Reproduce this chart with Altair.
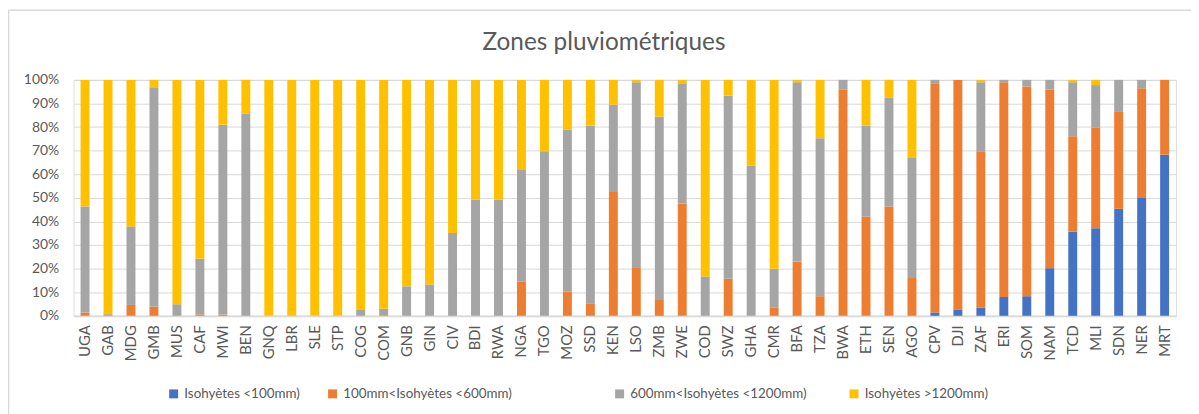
import altair as alt
import pandas as pd

countries = ["UGA", "GAB", "MDG", "GMB", "MUS", "CAF", "MWI", "BEN", "GNQ", "LBR", "SLE", "STP",
             "COG", "COM", "GNB", "GIN", "CIV", "BDI", "RWA", "NGA", "TGO", "MOZ", "SSD", "KEN",
             "LSO", "ZMB", "ZWE", "COD", "SWZ", "GHA", "CMR", "BFA", "TZA", "BWA", "ETH", "SEN",
             "AGO", "CPV", "DJI", "ZAF", "ERI", "SOM", "NAM", "TCD", "MLI", "SDN", "NER", "MRT"]

below_100 = [0, 0, 0, 0, 0, 0, 0, 0, 0, 0, 0, 0,
             0, 0, 0, 0, 0, 0, 0, 0, 0, 0, 0, 0,
             0, 0, 0, 0, 0, 0, 0, 0, 0, 0, 0, 0,
             0, 1.4, 2.7, 3.4, 8.0, 8.3, 20.2, 35.7, 37.1, 45.4, 49.9, 68.3]
from_100_600 = [1.4, 0, 4.6, 3.8, 0, 0.6, 0.5, 0, 0, 0, 0, 0,
                0, 0, 0, 0, 0, 0, 0, 14.6, 0, 10.3, 5.3, 52.5,
                20.6, 6.7, 47.6, 0, 15.7, 0, 3.4, 23.0, 8.3, 95.8, 42.1, 46.3,
                16.0, 96.9, 97.3, 66.4, 91.0, 88.9, 75.7, 40.4, 42.7, 41.3, 46.6, 31.7]
from_600_1200 = [44.9, 0.7, 33.3, 93.1, 4.9, 23.6, 80.5, 85.7, 0, 0, 0, 0,
                 2.5, 3.0, 12.5, 13.3, 35.1, 49.2, 49.2, 47.5, 69.8, 68.6, 75.3, 37.0,
                 78.4, 77.7, 51.0, 16.7, 77.6, 63.6, 16.5, 76.0, 67.0, 4.2, 38.5, 46.1,
                 50.9, 1.7, 0, 29.2, 1.0, 2.8, 4.1, 22.9, 18.0, 13.3, 3.5, 0]
above_1200 = [53.7, 99.3, 62.1, 3.1, 95.1, 75.8, 19.0, 14.3, 100, 100, 100, 100,
              97.5, 97.0, 87.5, 86.7, 64.9, 50.8, 50.8, 37.9, 30.2, 21.1, 19.4, 10.5,
              1.0, 15.6, 1.4, 83.3, 6.7, 36.4, 80.1, 1.0, 24.7, 0, 19.4, 7.6,
              33.1, 0, 0, 1.0, 0, 0, 0, 1.0, 2.2, 0, 0, 0]

series_names = ["Isohyètes <100mm)", "100mm<Isohyètes <600mm)",
                "600mm<Isohyètes <1200mm)", "Isohyètes >1200mm)"]
series_values = [below_100, from_100_600, from_600_1200, above_1200]
series_colors = ["#4472C4", "#ED7D31", "#A5A5A5", "#FFC000"]

title_text = "Zones pluviométriques"

rows = []
for si, (name, vals) in enumerate(zip(series_names, series_values)):
    for c, v in zip(countries, vals):
        rows.append({"pays": c, "zone": name, "valeur": v, "ordre": si})
df = pd.DataFrame(rows)

FONT = "Lato"
GREY_TXT = "#595959"

x_enc = alt.X("pays:N", sort=countries, title=None,
              scale=alt.Scale(paddingInner=0.6, paddingOuter=0.3),
              axis=alt.Axis(labelAngle=-90, labelFontSize=15, labelColor=GREY_TXT, labelFont=FONT,
                            labelPadding=9, ticks=False, domainColor="#D9D9D9", domainWidth=1.5,
                            grid=False))
y_enc = alt.Y("y0:Q", title=None, scale=alt.Scale(domain=[0, 1], nice=False),
              axis=alt.Axis(format="%", values=[i / 10 for i in range(11)], labelFontSize=14,
                            labelColor=GREY_TXT, labelFont=FONT, labelPadding=15, ticks=False,
                            domain=False, gridColor="#D9D9D9", gridWidth=1))

base = alt.Chart(df).transform_stack(
    stack="valeur", as_=["y0", "y1"], groupby=["pays"],
    sort=[alt.SortField("ordre", order="ascending")], offset="normalize")


def legend_at(x, pad):
    return alt.Legend(title=None, orient="none", direction="horizontal",
                      legendX=x, legendY=309, symbolType="square",
                      symbolSize=81, symbolStrokeWidth=0, labelFontSize=13.5,
                      labelFont=FONT, labelColor=GREY_TXT, labelOffset=4,
                      labelLimit=400, columnPadding=pad)


bars_low = base.transform_filter(alt.datum.ordre < 2).mark_bar(size=9).encode(
    x=x_enc, y=y_enc, y2="y1:Q",
    color=alt.Color("zone:N", scale=alt.Scale(domain=series_names[:2], range=series_colors[:2]),
                    legend=legend_at(94, 26)),
)
bars_high = base.transform_filter(alt.datum.ordre >= 2).mark_bar(size=9).encode(
    x=x_enc, y=y_enc, y2="y1:Q",
    color=alt.Color("zone:N", scale=alt.Scale(domain=series_names[2:], range=series_colors[2:]),
                    legend=legend_at(543, 40)),
)

title = alt.Chart(pd.DataFrame({"t": [title_text]})).mark_text(
    fontSize=24.5, font=FONT, color=GREY_TXT, align="center", baseline="alphabetic"
).encode(text="t:N", x=alt.value(534), y=alt.value(-30))

frame_df = pd.DataFrame({"k": [0]})
left_border = alt.Chart(frame_df).mark_rule(color="#D9D9D9", strokeWidth=1.5).encode(
    x=alt.value(-65.5), y=alt.value(-70), y2=alt.value(420))
top_border = alt.Chart(frame_df).mark_rule(color="#D9D9D9", strokeWidth=1.5).encode(
    x=alt.value(-65.5), x2=alt.value(1200), y=alt.value(-70))

chart = alt.layer(left_border, top_border, bars_low, bars_high, title).resolve_scale(
    color="independent").resolve_legend(color="independent").properties(
    width=1110, height=237.5,
    autosize=alt.AutoSizeParams(type="none"),
    padding={"left": 66, "top": 71, "right": 15, "bottom": 97},
).configure_view(stroke=None).configure(background="white")

chart.save("out.html", embed_options={"renderer": "svg", "actions": False})
